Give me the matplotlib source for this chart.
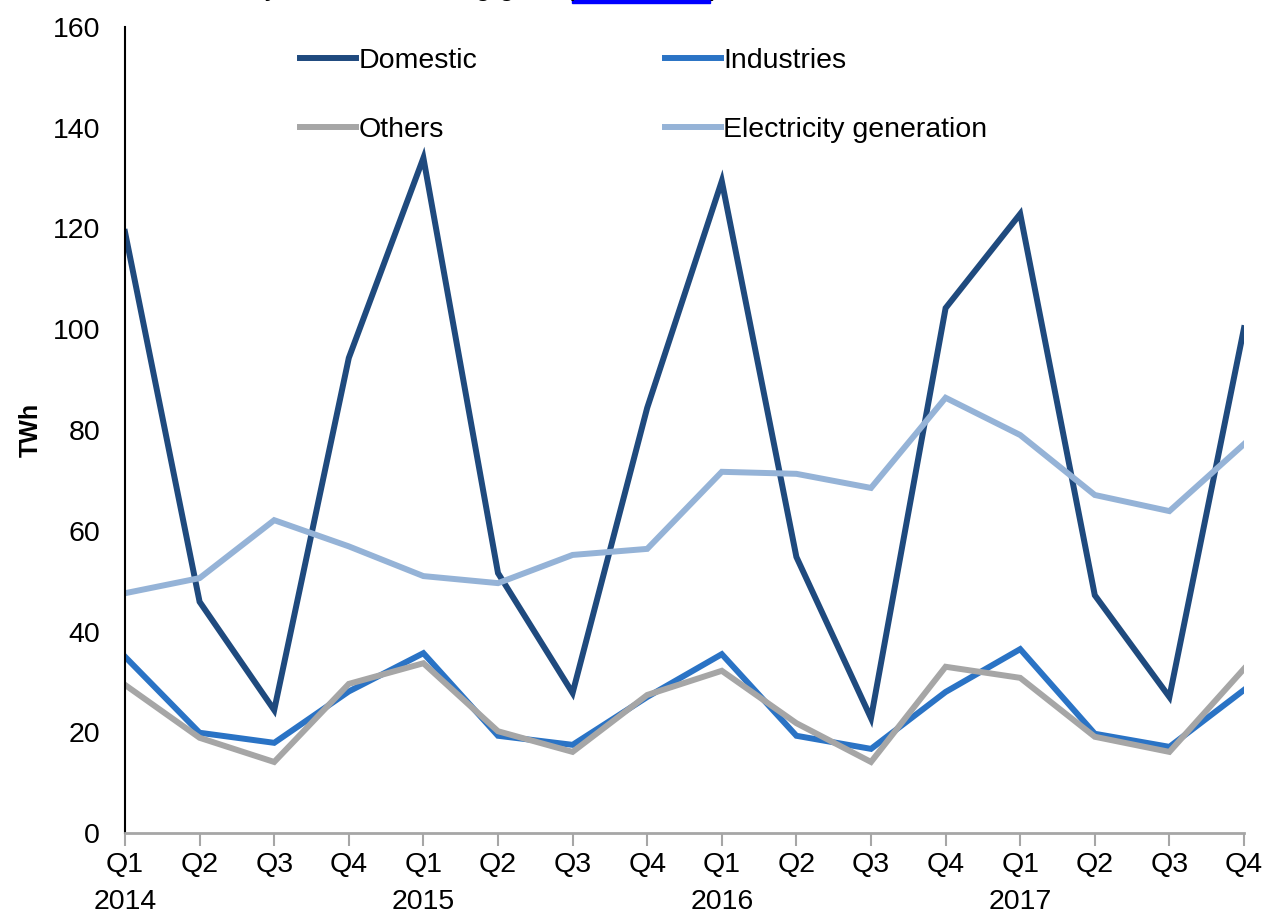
import numpy as np
import matplotlib
matplotlib.use("Agg")
import matplotlib.pyplot as plt
import matplotlib.transforms as mtransforms
from matplotlib.patches import Rectangle

plt.rcParams['font.family'] = ['Liberation Sans', 'DejaVu Sans']

### Data (TWh) ###
quarters = ['Q1', 'Q2', 'Q3', 'Q4'] * 4
years = ['2014', '2015', '2016', '2017']

domestic = [119.3, 45.9, 24.4, 94.3, 134.0, 51.6, 27.8, 84.4,
            129.4, 54.8, 22.8, 104.2, 122.9, 47.2, 27.0, 100.2]
industries = [35.0, 19.9, 17.9, 28.1, 35.7, 19.3, 17.5, 27.0,
              35.5, 19.3, 16.7, 28.0, 36.5, 19.7, 17.1, 28.4]
others = [29.4, 18.9, 14.1, 29.6, 33.7, 20.2, 16.1, 27.4,
          32.2, 21.8, 14.1, 33.0, 30.8, 19.1, 16.1, 32.6]
electricity = [47.6, 50.6, 62.1, 56.9, 51.0, 49.6, 55.2, 56.4,
               71.7, 71.3, 68.5, 86.4, 79.0, 67.1, 63.9, 77.2]

series = [('Domestic', domestic, '#1f4a7e'),
          ('Industries', industries, '#2a73c5'),
          ('Others', others, '#a6a6a6'),
          ('Electricity generation', electricity, '#95b3d7')]

FS = 20.5

### Plotting ###
fig = plt.figure(figsize=(12.66, 9.15), dpi=100)
ax = fig.add_axes([125 / 1266, 1 - 833 / 915, 1119 / 1266, 806 / 915])

x = np.arange(len(domestic))
for name, vals, col in series:
    ax.plot(x, vals, color=col, lw=4.3, label=name, solid_joinstyle='miter')

ax.set_xlim(0, len(x) - 1)
ax.set_ylim(0, 160)
ax.set_yticks(np.arange(0, 161, 20))

ax.set_xticks(x)
ax.set_xticklabels(quarters, fontsize=FS)
ax.tick_params(axis='x', length=9, width=1.5, color='#a6a6a6', pad=5)
ax.tick_params(axis='y', length=0, labelsize=FS, pad=18)

# year under the first quarter of each year
trans = mtransforms.blended_transform_factory(ax.transData, ax.transAxes)
for i, yr in enumerate(years):
    ax.text(x[i * 4], -0.085, yr, transform=trans, ha='center', va='center',
            fontsize=FS)

for s in ['top', 'right']:
    ax.spines[s].set_visible(False)
ax.spines['left'].set_color('black')
ax.spines['left'].set_linewidth(1.5)
ax.spines['bottom'].set_color('#a6a6a6')
ax.spines['bottom'].set_linewidth(2)

ax.set_ylabel('TWh', fontsize=18, fontweight='bold', labelpad=7)

# legend in two columns, rows ordered like the series list
handles, names = ax.get_legend_handles_labels()
order = [0, 2, 1, 3]
fig.legend([handles[i] for i in order], [names[i] for i in order],
           ncol=2, frameon=False, fontsize=FS, loc='upper left',
           bbox_to_anchor=(300 / 1266, 1 - 48 / 915),
           borderpad=0, borderaxespad=0, handlelength=1.95,
           handletextpad=0.1, columnspacing=6.6, labelspacing=1.52)

# clipped title line at the top edge
ty = 1 + 5 / 915
fig.text(545 / 1266, ty, 'Gas demand by sector, including gas',
         ha='right', va='baseline', fontsize=FS)
fig.text(564 / 1266, ty, '(', ha='left', va='baseline', fontsize=FS)
fig.patches.append(Rectangle((572 / 1266, 1 - 3 / 915), 138 / 1266, 5 / 915,
                             transform=fig.transFigure, color='#0000ff'))
fig.text(710 / 1266, ty, ')', ha='left', va='baseline', fontsize=FS)

fig.savefig('out.png', dpi=100)
